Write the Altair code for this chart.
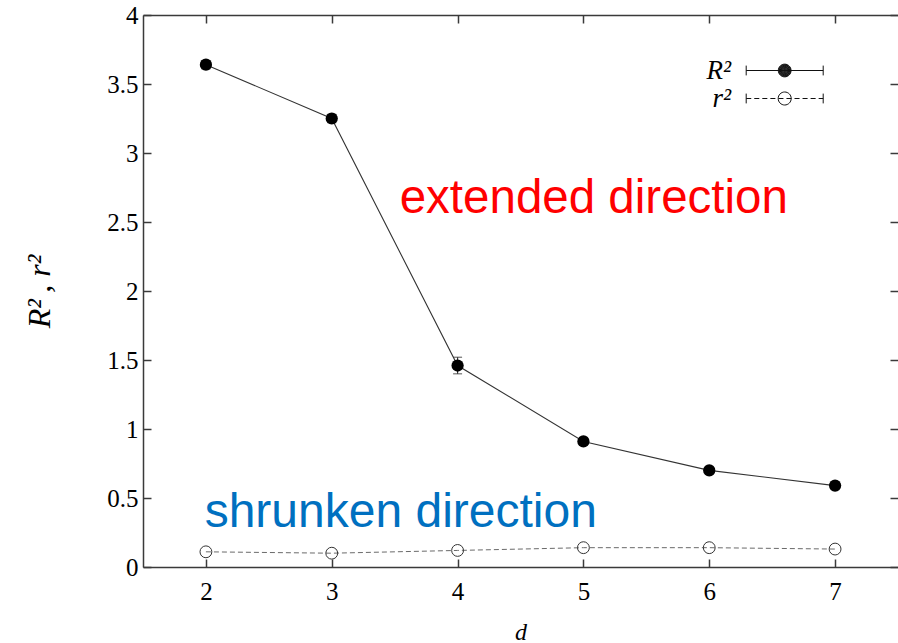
import altair as alt
import pandas as pd

# ---- data ----
d_vals = [2, 3, 4, 5, 6, 7]
R2_vals = [3.64, 3.25, 1.46, 0.91, 0.70, 0.59]
R2_err = [0.03, 0.03, 0.06, 0.02, 0.02, 0.02]
r2_vals = [0.11, 0.10, 0.12, 0.14, 0.14, 0.13]
series_names = ["R²", "r²"]
x_ticks = [2, 3, 4, 5, 6, 7]
y_ticks = [0, 0.5, 1, 1.5, 2, 2.5, 3, 3.5, 4]

big = pd.DataFrame({
    "d": d_vals,
    "R2": R2_vals,
    "lo": [v - e for v, e in zip(R2_vals, R2_err)],
    "hi": [v + e for v, e in zip(R2_vals, R2_err)],
})
small = pd.DataFrame({"d": d_vals, "r2": r2_vals})
keys = pd.DataFrame({"series": series_names})

# ---- legend glyphs (stroked custom symbol paths, 1 unit = 7 px) ----
# the sample is drawn to the right of the symbol anchor so the
# right-aligned label sits on its left, gnuplot style
X0, X1 = 4.1, 15.1
XC = (X0 + X1) / 2
CAP = 0.7


def circle(r):
    return (f"M{XC - r:.3f},0A{r:.3f},{r:.3f} 0 1 0 {XC + r:.3f},0"
            f"A{r:.3f},{r:.3f} 0 1 0 {XC - r:.3f},0")


def caps():
    return f"M{X0},{-CAP}L{X0},{CAP}M{X1},{-CAP}L{X1},{CAP}"


# solid disc built from closely spaced rings
disc = "".join(circle(0.07 * k) for k in range(1, 14))
solid_glyph = f"M{X0},0L{X1},0" + caps() + disc

dash, gap = 0.72, 0.43
segs = []
pos = X0
while pos < X1:
    end = min(pos + dash, X1)
    segs.append(f"M{pos:.3f},0L{end:.3f},0")
    pos = end + gap
open_glyph = "".join(segs) + caps() + circle(0.93)

# ---- scales and axis styling ----
xs = alt.Scale(domain=[1.5, 7.5], nice=False, zero=False)
ys = alt.Scale(domain=[0, 4], nice=False, zero=False)
AX = "#3a3a3a"
SERIF = "Liberation Serif"


def ax(**kw):
    base = dict(grid=False, domainColor=AX, domainWidth=1.5, tickColor=AX,
                tickWidth=1.5, tickSize=8, labelFont=SERIF, labelFontSize=25,
                labelColor="black", title=None)
    base.update(kw)
    return alt.Axis(**base)


# solid R^2 curve; carries the labelled bottom/left axes
line_R = alt.Chart(big).mark_line(color="#333333", strokeWidth=1.1).encode(
    x=alt.X("d:Q", scale=xs, axis=ax(
        orient="bottom", ticks=False, values=x_ticks, labelPadding=12,
        title="d", titleFont=SERIF, titleFontStyle="italic", titleFontSize=24,
        titleFontWeight="normal", titleColor="black", titleY=72,
        titleBaseline="alphabetic")),
    y=alt.Y("R2:Q", scale=ys, axis=ax(
        orient="left", ticks=False, values=y_ticks, format="~g",
        labelPadding=5, title="R²\u2009, r²", titleFont=SERIF,
        titleFontStyle="italic", titleFontSize=32, titleFontWeight="normal",
        titleColor="black", titleX=-94, titleY=276, titleAlign="center",
        titleBaseline="alphabetic")),
)

# dashed r^2 curve; carries the inward ticks on bottom/left
line_r = alt.Chart(small).mark_line(color="#6a6a6a", strokeWidth=1,
                                     strokeDash=[5, 3]).encode(
    x=alt.X("d:Q", scale=xs, axis=ax(orient="bottom", offset=-8, domain=False,
                                     labels=False, values=x_ticks)),
    y=alt.Y("r2:Q", scale=ys, axis=ax(orient="left", offset=-8, domain=False,
                                      labels=False, values=y_ticks)),
)

err_rule = alt.Chart(big).mark_rule(color="#333333", strokeWidth=1.2).encode(
    x=alt.X("d:Q", scale=xs, axis=None),
    y=alt.Y("lo:Q", scale=ys, axis=None),
    y2="hi:Q",
)
err_caps_lo = alt.Chart(big).mark_tick(color="#333333", orient="horizontal",
                                       size=9, thickness=1.2).encode(
    x=alt.X("d:Q", scale=xs, axis=None),
    y=alt.Y("lo:Q", scale=ys, axis=None),
)
err_caps_hi = alt.Chart(big).mark_tick(color="#333333", orient="horizontal",
                                       size=9, thickness=1.2).encode(
    x=alt.X("d:Q", scale=xs, axis=None),
    y=alt.Y("hi:Q", scale=ys, axis=None),
)

# filled R^2 markers; carry the top frame line and right ticks
pts_R = alt.Chart(big).mark_point(filled=True, color="black", size=150,
                                  opacity=1).encode(
    x=alt.X("d:Q", scale=xs, axis=ax(orient="top", ticks=False, labels=False,
                                     values=x_ticks)),
    y=alt.Y("R2:Q", scale=ys, axis=ax(orient="right", offset=-8, domain=False,
                                      labels=False, values=y_ticks)),
)

# open r^2 markers; carry the top ticks
pts_r = alt.Chart(small).mark_point(filled=False, color="#333333", size=140,
                                    strokeWidth=1, opacity=1).encode(
    x=alt.X("d:Q", scale=xs, axis=ax(orient="top", offset=-8, domain=False,
                                     labels=False, values=x_ticks)),
    y=alt.Y("r2:Q", scale=ys, axis=None),
)

# key: glyphs only, no marks drawn
key = alt.Chart(keys).transform_filter("false").mark_point(
    filled=False, color="#111111", size=196, strokeWidth=1, opacity=1
).encode(
    x=alt.X("series:N", axis=None),
    y=alt.Y("series:N", axis=None),
    shape=alt.Shape("series:N", scale=alt.Scale(
        domain=series_names, range=[solid_glyph, open_glyph]),
        legend=alt.Legend(
            title=None, orient="none", legendX=561, legendY=42, padding=0,
            rowPadding=0, symbolSize=196, symbolStrokeWidth=1,
            symbolStrokeColor="#111111", symbolOpacity=1, labelFont=SERIF,
            labelFontStyle="italic", labelFontSize=27, labelColor="black",
            labelAlign="right", labelOffset=0)),
)

anno_df = pd.DataFrame({"a": [0]})
txt_ext = alt.Chart(anno_df).mark_text(
    text="extended direction", font="Liberation Sans", fontSize=47.5,
    color="#ff0000", align="left", baseline="alphabetic"
).encode(x=alt.XDatum(3.54, scale=xs, axis=None),
         y=alt.YDatum(2.565, scale=ys, axis=None))
txt_shr = alt.Chart(anno_df).mark_text(
    text="shrunken direction", font="Liberation Sans", fontSize=48,
    color="#0070c0", align="left", baseline="alphabetic"
).encode(x=alt.XDatum(1.99, scale=xs, axis=None),
         y=alt.YDatum(0.29, scale=ys, axis=None))

chart = alt.layer(
    line_R, line_r, err_rule, err_caps_lo, err_caps_hi, pts_R, pts_r, key,
    txt_ext, txt_shr
).resolve_axis(x="independent", y="independent").resolve_scale(
    shape="independent"
).properties(
    width=755, height=552, autosize="none",
    padding={"left": 143, "top": 15, "right": 0, "bottom": 76},
    background="white",
).configure_view(stroke=None).configure_axis(labelFont=SERIF)

chart.save("out.html", embed_options={"renderer": "svg", "actions": False})
